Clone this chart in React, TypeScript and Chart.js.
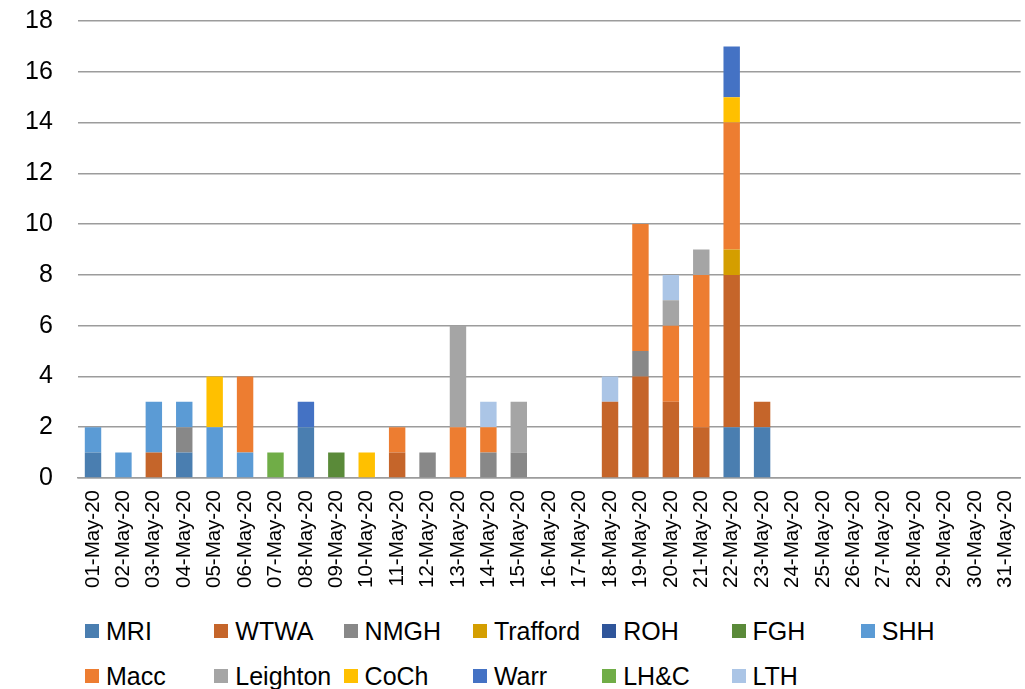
import React, { useEffect, useRef } from "react";
import { Chart, registerables } from "chart.js";

Chart.register(...registerables);

const dates = [
  "01-May-20", "02-May-20", "03-May-20", "04-May-20", "05-May-20", "06-May-20", "07-May-20", "08-May-20",
  "09-May-20", "10-May-20", "11-May-20", "12-May-20", "13-May-20", "14-May-20", "15-May-20", "16-May-20",
  "17-May-20", "18-May-20", "19-May-20", "20-May-20", "21-May-20", "22-May-20", "23-May-20", "24-May-20",
  "25-May-20", "26-May-20", "27-May-20", "28-May-20", "29-May-20", "30-May-20", "31-May-20",
];

//                 01 02 03 04 05 06 07 08 09 10 11 12 13 14 15 16 17 18 19 20 21 22 23 24 25 26 27 28 29 30 31
const mri =       [1, 0, 0, 1, 0, 0, 0, 2, 0, 0, 0, 0, 0, 0, 0, 0, 0, 0, 0, 0, 0, 2, 2, 0, 0, 0, 0, 0, 0, 0, 0];
const wtwa =      [0, 0, 1, 0, 0, 0, 0, 0, 0, 0, 1, 0, 0, 0, 0, 0, 0, 3, 4, 3, 2, 6, 1, 0, 0, 0, 0, 0, 0, 0, 0];
const nmgh =      [0, 0, 0, 1, 0, 0, 0, 0, 0, 0, 0, 1, 0, 1, 1, 0, 0, 0, 1, 0, 0, 0, 0, 0, 0, 0, 0, 0, 0, 0, 0];
const trafford =  [0, 0, 0, 0, 0, 0, 0, 0, 0, 0, 0, 0, 0, 0, 0, 0, 0, 0, 0, 0, 0, 1, 0, 0, 0, 0, 0, 0, 0, 0, 0];
const roh =       [0, 0, 0, 0, 0, 0, 0, 0, 0, 0, 0, 0, 0, 0, 0, 0, 0, 0, 0, 0, 0, 0, 0, 0, 0, 0, 0, 0, 0, 0, 0];
const fgh =       [0, 0, 0, 0, 0, 0, 0, 0, 1, 0, 0, 0, 0, 0, 0, 0, 0, 0, 0, 0, 0, 0, 0, 0, 0, 0, 0, 0, 0, 0, 0];
const shh =       [1, 1, 2, 1, 2, 1, 0, 0, 0, 0, 0, 0, 0, 0, 0, 0, 0, 0, 0, 0, 0, 0, 0, 0, 0, 0, 0, 0, 0, 0, 0];
const macc =      [0, 0, 0, 0, 0, 3, 0, 0, 0, 0, 1, 0, 2, 1, 0, 0, 0, 0, 5, 3, 6, 5, 0, 0, 0, 0, 0, 0, 0, 0, 0];
const leighton =  [0, 0, 0, 0, 0, 0, 0, 0, 0, 0, 0, 0, 4, 0, 2, 0, 0, 0, 0, 1, 1, 0, 0, 0, 0, 0, 0, 0, 0, 0, 0];
const coch =      [0, 0, 0, 0, 2, 0, 0, 0, 0, 1, 0, 0, 0, 0, 0, 0, 0, 0, 0, 0, 0, 1, 0, 0, 0, 0, 0, 0, 0, 0, 0];
const warr =      [0, 0, 0, 0, 0, 0, 0, 1, 0, 0, 0, 0, 0, 0, 0, 0, 0, 0, 0, 0, 0, 2, 0, 0, 0, 0, 0, 0, 0, 0, 0];
const lhc =       [0, 0, 0, 0, 0, 0, 1, 0, 0, 0, 0, 0, 0, 0, 0, 0, 0, 0, 0, 0, 0, 0, 0, 0, 0, 0, 0, 0, 0, 0, 0];
const lth =       [0, 0, 0, 0, 0, 0, 0, 0, 0, 0, 0, 0, 0, 1, 0, 0, 0, 1, 0, 1, 0, 0, 0, 0, 0, 0, 0, 0, 0, 0, 0];

const seriesNames = ["MRI", "WTWA", "NMGH", "Trafford", "ROH", "FGH", "SHH", "Macc", "Leighton", "CoCh", "Warr", "LH&C", "LTH"];
const seriesValues = [mri, wtwa, nmgh, trafford, roh, fgh, shh, macc, leighton, coch, warr, lhc, lth];
const seriesColors = [
  "#4A7EB0", "#C5652A", "#888888", "#D49E00", "#2F559A", "#5A8A39", "#5B9BD5",
  "#ED7D31", "#A5A5A5", "#FFC000", "#4472C4", "#70AD47", "#ABC5E6",
];

const yTicks = [0, 2, 4, 6, 8, 10, 12, 14, 16, 18];

const FONT = "'Liberation Sans', Arial, sans-serif";

export default function App() {
  const ref = useRef<HTMLCanvasElement | null>(null);

  useEffect(() => {
    if (!ref.current) return;
    const chart = new Chart(ref.current, {
      type: "bar",
      data: {
        labels: dates,
        datasets: seriesNames.map((name, i) => ({
          label: name,
          data: seriesValues[i],
          backgroundColor: seriesColors[i],
          borderWidth: 0,
          categoryPercentage: 1,
          barPercentage: 0.54,
        })),
      },
      options: {
        animation: false,
        responsive: true,
        maintainAspectRatio: false,
        layout: { padding: { left: 0, right: 0, top: 0, bottom: 0 } },
        plugins: {
          legend: { display: false },
          tooltip: { enabled: false },
        },
        scales: {
          x: {
            stacked: true,
            grid: { display: false, drawTicks: false },
            border: { display: true, color: "#9C9C9C", width: 1.5 },
            ticks: {
              autoSkip: false,
              minRotation: 90,
              maxRotation: 90,
              padding: 12,
              color: "#000",
              font: { family: FONT, size: 20.5 },
            },
          },
          y: {
            stacked: true,
            min: 0,
            max: 18,
            afterBuildTicks: (axis: any) => {
              axis.ticks = yTicks.map((v) => ({ value: v }));
            },
            grid: { color: "#9C9C9C", lineWidth: 1.5, drawTicks: false },
            border: { display: false },
            ticks: {
              padding: 25,
              color: "#000",
              font: { family: FONT, size: 25 },
            },
          },
        },
      },
    });
    return () => chart.destroy();
  }, []);

  return (
    <div style={{ position: "fixed", left: 0, top: 0, width: 1025, height: 689, background: "#fff", fontFamily: FONT, overflow: "hidden" }}>
      <div style={{ position: "absolute", left: 0, top: -19, width: 1042, height: 619 }}>
        <canvas ref={ref} />
      </div>
      {seriesNames.map((name, i) => {
        const row = Math.floor(i / 7);
        const col = i % 7;
        return (
          <div
            key={name}
            style={{
              position: "absolute",
              left: 85 + col * 129.3,
              top: 631 + row * 45 - 15,
              height: 30,
              display: "flex",
              alignItems: "center",
              whiteSpace: "nowrap",
            }}
          >
            <span style={{ display: "inline-block", width: 14, height: 14, background: seriesColors[i], marginRight: 7 }} />
            <span style={{ fontSize: 25, color: "#000", lineHeight: "30px" }}>{name}</span>
          </div>
        );
      })}
    </div>
  );
}
